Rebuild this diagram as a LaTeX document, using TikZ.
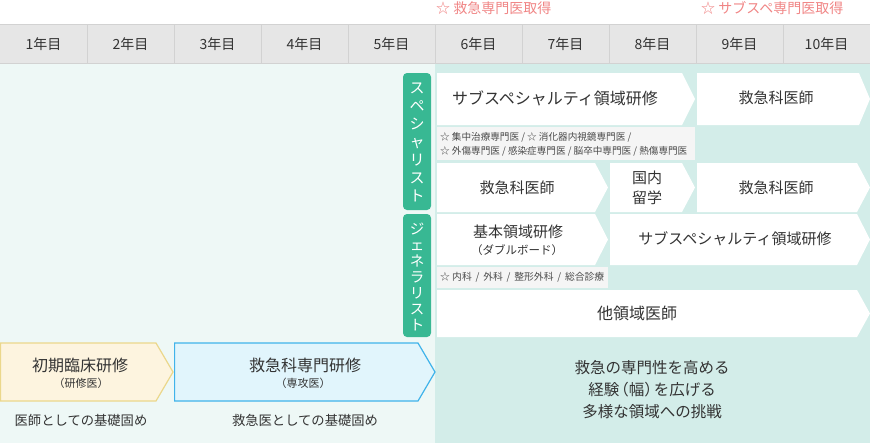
\documentclass[tikz,border=0pt]{standalone}
\usepackage{fontspec}
\setmainfont{Noto Sans CJK JP}
\definecolor{hdrfill}{HTML}{E6E6E6}
\definecolor{hdrline}{HTML}{D2D2D2}
\definecolor{bgleft}{HTML}{EEF8F6}
\definecolor{bgright}{HTML}{D3EDE9}
\definecolor{tabgreen}{HTML}{38B893}
\definecolor{txt}{HTML}{333333}
\definecolor{subtxt}{HTML}{4A4A4A}
\definecolor{pinktxt}{HTML}{F08585}
\definecolor{notefill}{HTML}{F5F5F5}
\definecolor{yelfill}{HTML}{FDF4DF}
\definecolor{yelline}{HTML}{EBD78B}
\definecolor{bluefill}{HTML}{E1F5FC}
\definecolor{blueline}{HTML}{3FB3EA}
\newcommand\chevfill[6]{%
  \path[#6] (#1,#3) -- ({#2-#5},#3) -- (#2,{(#3+#4)/2}) -- ({#2-#5},#4) -- (#1,#4) -- cycle;}
\begin{document}
\begin{tikzpicture}[x=1pt,y=-1pt,
  lbl/.style={font=\fontsize{15}{19}\selectfont, text=txt, inner sep=0pt, align=center},
  biglbl/.style={lbl, font=\fontsize{16}{19}\selectfont},
  hdrlbl/.style={font=\fontsize{14}{16}\selectfont, text=txt, inner sep=0pt},
  smalllbl/.style={font=\fontsize{11}{13}\selectfont, text=txt, inner sep=0pt},
  notelbl/.style={font=\fontsize{9.6}{14}\selectfont, text=subtxt, inner sep=0pt, anchor=west, align=left},
  pinklbl/.style={font=\fontsize{14}{16}\selectfont, text=pinktxt, inner sep=0pt, anchor=west},
  tablbl/.style={font=\fontsize{15}{18}\selectfont, text=white, inner sep=0pt, align=center},
  whitebox/.style={fill=white},
  notebox/.style={fill=notefill},
  tabbox/.style={fill=tabgreen, rounded corners=4pt},
  yelbox/.style={fill=yelfill, draw=yelline, line width=1.2pt},
  bluebox/.style={fill=bluefill, draw=blueline, line width=1.2pt}]
\useasboundingbox (0,0) rectangle (870,445);
% backgrounds
\fill[bgleft] (0,64) rectangle (435,443);
\fill[bgright] (435,64) rectangle (870,443);
% header
\fill[hdrfill] (0,24) rectangle (870,64);
\draw[hdrline, line width=1pt] (0,24.5) -- (870,24.5);
\draw[hdrline, line width=1pt] (0,63.5) -- (870,63.5);
\foreach \i in {1,...,9} \draw[hdrline, line width=1pt] ({87*\i},24) -- ({87*\i},64);
\foreach \i in {1,...,10} \node[hdrlbl] (yr\i) at ({87*\i-43.5},44) {\i 年目};
% pink labels
\node[pinklbl] (get1) at (436,8) {☆ 救急専門医取得};
\node[pinklbl] (get2) at (701,8) {☆ サブスペ専門医取得};
% tabs
\fill[tabbox] (403,73) rectangle (431,210);
\fill[tabbox] (403,214) rectangle (431,337);
\node[tablbl] (spec) at (417,142) {ス\\ペ\\シ\\ャ\\リ\\ス\\ト};
\node[tablbl, font=\fontsize{14.5}{16}\selectfont] (gen) at (417,277) {ジ\\ェ\\ネ\\ラ\\リ\\ス\\ト};
% row 1
\chevfill{437}{695}{73}{125}{13}{whitebox}
\chevfill{697}{870}{73}{125}{11}{whitebox}
\node[biglbl] (r1a) at (555,98) {サブスペシャルティ領域研修};
\node[lbl] (r1b) at (776,98) {救急科医師};
% row 2 notes
\fill[notebox] (437,127) rectangle (695,160);
\node[notelbl] (note1) at (440,144) {☆ 集中治療専門医 / ☆ 消化器内視鏡専門医 /\\☆ 外傷専門医 / 感染症専門医 / 脳卒中専門医 / 熱傷専門医};
% row 3
\chevfill{437}{608}{163}{212}{13}{whitebox}
\chevfill{610}{695}{163}{212}{13}{whitebox}
\chevfill{697}{870}{163}{212}{13}{whitebox}
\node[lbl] (r3a) at (517,188) {救急科医師};
\node[lbl, font=\fontsize{15}{20}\selectfont] (r3b) at (647,188) {国内\\留学};
\node[lbl] (r3c) at (776,188) {救急科医師};
% row 4
\chevfill{437}{608}{214}{265}{13}{whitebox}
\chevfill{610}{870}{214}{265}{13}{whitebox}
\node[lbl] (r4a) at (518,232) {基本領域研修};
\node[lbl, font=\fontsize{11.5}{14}\selectfont] (r4a2) at (517,250) {（ダブルボード）};
\node[lbl] (r4b) at (735,239) {サブスペシャルティ領域研修};
% row 5 notes
\fill[notebox] (437,267) rectangle (608,288);
\node[notelbl, font=\fontsize{9.8}{14}\selectfont] (note2) at (440,277.5) {☆ 内科\, / \,外科\, / \,整形外科\, / \,総合診療};
% row 6
\chevfill{437}{870}{290}{337}{13}{whitebox}
\node[biglbl] (r6) at (637,313) {他領域医師};
% bottom boxes
\chevfill{0.6}{173}{343}{401}{17}{yelbox}
\chevfill{174.6}{435}{343}{401}{17}{bluebox}
\node[biglbl] (init) at (80,365) {初期臨床研修};
\node[smalllbl] (init2) at (81,383) {（研修医）};
\node[biglbl] (emer) at (305,365) {救急科専門研修};
\node[smalllbl] (emer2) at (303,383) {（専攻医）};
\node[lbl, font=\fontsize{13.3}{16}\selectfont] (base1) at (81,420) {医師としての基礎固め};
\node[lbl, font=\fontsize{13.3}{16}\selectfont] (base2) at (305,420) {救急医としての基礎固め};
\node[lbl, font=\fontsize{15.5}{22}\selectfont] (goal) at (652,390) {救急の専門性を高める\\経験\kern-6pt（幅）\kern-6pt を広げる\\多様な領域への挑戦};
\end{tikzpicture}
\end{document}
